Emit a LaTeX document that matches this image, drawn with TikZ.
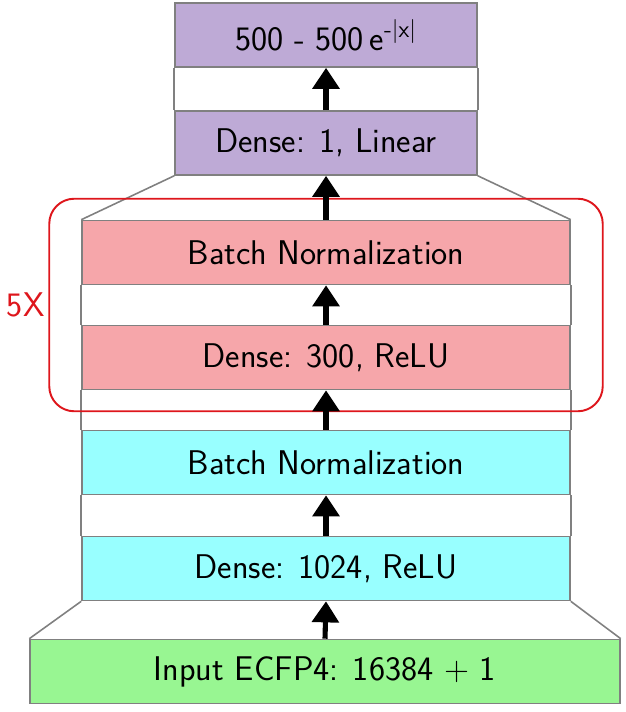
\documentclass[tikz,border=0pt]{standalone}
\usepackage{xcolor}
\usepackage{tikz}
\usetikzlibrary{arrows.meta,fit}
\renewcommand{\familydefault}{\sfdefault}
\definecolor{lilac}{RGB}{190,170,214}
\definecolor{salmon}{RGB}{246,166,170}
\definecolor{aqua}{RGB}{152,255,255}
\definecolor{mint}{RGB}{152,246,146}
\definecolor{rim}{RGB}{128,128,128}
\definecolor{loopred}{RGB}{222,22,28}
\begin{document}
\begin{tikzpicture}[x=0.02cm, y=-0.02cm,
    layer/.style={draw=rim, line width=0.9pt, inner sep=0pt, minimum height=1.28cm,
                  font=\fontsize{19.5}{23}\selectfont},
    narrow/.style={layer, minimum width=6.04cm},
    wide/.style={layer, minimum width=9.76cm},
    widest/.style={layer, minimum width=11.8cm},
    side/.style={draw=rim, line width=0.9pt},
    flow/.style={line width=2.9pt, -{Triangle[length=12pt, width=15pt]}}]
    \useasboundingbox (0,0) rectangle (625,712);
    % layers, top to bottom
    \node[narrow, fill=lilac] (out) at (326,35) {500 - 500\,e\textsuperscript{-|x|}};
    \node[narrow, fill=lilac] (lin) at (326,143) {Dense: 1, Linear};
    \node[wide, fill=salmon] (bnB) at (326,252.5) {Batch Normalization};
    \node[wide, fill=salmon] (dB) at (326,357.5) {Dense: 300, ReLU};
    \node[wide, fill=aqua] (bnA) at (326,462.5) {Batch Normalization};
    \node[wide, fill=aqua] (dA) at (326,568.5) {Dense: 1024, ReLU};
    \node[widest, fill=mint] (inp) at (325,671.5) {Input ECFP4: 16384 + 1};
    % sides of the gaps
    \foreach \lo/\hi in {lin/out, bnB/lin, dB/bnB, bnA/dB, dA/bnA, inp/dA}{
        \draw[side] (\lo.north west) -- (\hi.south west);
        \draw[side] (\lo.north east) -- (\hi.south east);
    }
    % repeated block
    \node[fit=(bnB)(dB), inner xsep=0.64cm, inner ysep=0.42cm, draw=loopred,
          line width=1.1pt, rounded corners=0.5cm] (rep) {};
    \node[left, text=loopred, font=\fontsize{19.5}{23}\selectfont, inner sep=2pt] (times) at (rep.west) {5X};
    % arrows
    \foreach \lo/\hi in {inp/dA, dA/bnA, bnA/dB, dB/bnB, bnB/lin, lin/out}
        \draw[flow] (\lo.north) -- (\hi.south);
\end{tikzpicture}
\end{document}
